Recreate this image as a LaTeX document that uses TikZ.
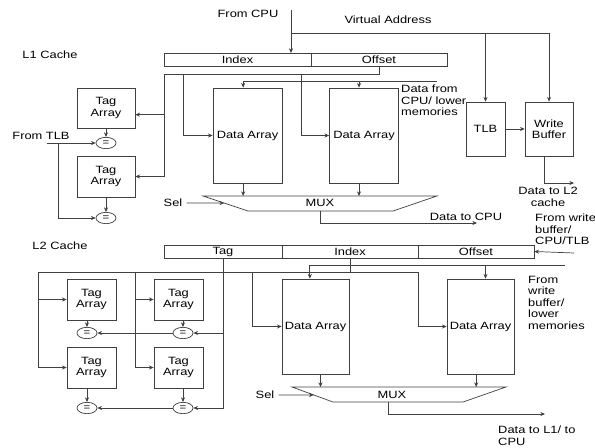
\documentclass[tikz,border=0pt]{standalone}
\usepackage{fontspec}
\setmainfont{Liberation Sans}[FakeStretch=1.22]
\usetikzlibrary{arrows.meta,shapes.geometric,calc}
\tikzset{
  wire/.style={draw=black!75,line width=0.6pt},
  arr/.style={wire,-{Stealth[length=4pt,width=3.5pt]}},
  blk/.style={wire,inner sep=0pt,align=center},
  fld/.style={wire,inner sep=0pt,minimum height=0.4cm},
  cmp/.style={wire,ellipse,inner sep=0pt,minimum width=0.6cm,minimum height=0.34cm,font=\fontsize{8}{8}\selectfont},
  txt/.style={inner sep=0pt,align=left}
}

\begin{document}
\begin{tikzpicture}[x=0.03cm,y=-0.03cm,font=\fontsize{9}{9.8}\selectfont]
  \useasboundingbox (0,0) rectangle (595,447);

  %% L1 cache
  \node[txt] (l1) at (50,55) {L1 Cache};
  \node[txt] (cpu) at (248,14) {From CPU};
  \node[txt] (va) at (388,20) {Virtual Address};
  % address fields
  \node[fld,minimum width=4.41cm] (idx1) at (237.5,60) {Index};
  \node[fld,minimum width=4.08cm] (off1) at (379,60) {Offset};
  \coordinate (cpuin) at (291,10);
  \coordinate (vbus) at (291,33);
  \draw[arr] (cpuin) -- (cpuin |- idx1.north);
  % TLB and write buffer
  \node[blk,minimum width=1.17cm,minimum height=1.62cm] (tlb) at (485.5,129) {TLB};
  \node[blk,minimum width=1.44cm,minimum height=1.62cm] (wb) at (549,129) {Write\\Buffer};
  \draw[arr] (vbus) -| (tlb.north);
  \draw[arr] (vbus) -| (wb.north);
  \draw[arr] (tlb) -- (wb);
  \coordinate (l2out) at (574,183);
  \draw[arr] ([xshift=-0.15cm]wb.south) |- (l2out);
  \node[txt,align=center] (tol2) at (548,197) {Data to L2\\cache};
  % tag arrays
  \node[blk,minimum width=1.74cm,minimum height=1.2cm] (ta1) at (106,108) {Tag\\Array};
  \node[blk,minimum width=1.74cm,minimum height=1.23cm] (ta2) at (106,176.5) {Tag\\Array};
  \node[cmp] (eq1) at (106,143) {=};
  \node[cmp] (eq2) at (106,218) {=};
  \draw[arr] (ta1) -- (eq1);
  \draw[arr] (ta2) -- (eq2);
  \node[txt] (ftlb) at (41,136) {From TLB};
  \coordinate (tlbin) at (47,143);
  \coordinate (tlbj) at (58,143);
  \draw[arr] (tlbin) -- (eq1.west);
  \draw[arr] (tlbj) |- (eq2.west);
  % data arrays
  \node[blk,minimum width=2.07cm,minimum height=2.85cm] (da1) at (247.5,135.5) {Data Array};
  \node[blk,minimum width=2.07cm,minimum height=2.85cm] (da2) at (364,135.5) {Data Array};
  \coordinate (ib) at (164,74);
  \draw[wire] (off1.south) |- (ib);
  \draw[arr] (ib) |- ([yshift=-0.2cm]ta1.east);
  \draw[arr] (ib) |- (ta2.east);
  \draw[arr] (183,74) |- (da1.west);
  \draw[arr] (301,74) |- (da2.west);
  \coordinate (din1) at (437,81);
  \draw[arr] (din1) -| ([xshift=-0.13cm]da1.north);
  \draw[arr] (din1 -| da2.north) ++(-5,0) -- ([xshift=-0.15cm]da2.north);
  \node[txt,anchor=north west] (dfrom) at (401,85) {Data from\\CPU/ lower\\memories};
  % mux
  \coordinate (m1a) at (203,196);
  \coordinate (m1b) at (437,196);
  \coordinate (m1c) at (393,211);
  \coordinate (m1d) at (248,211);
  \draw[wire] (m1a) -- (m1b) -- (m1c) -- (m1d) -- cycle;
  \node[txt] (mux1) at (320,203) {MUX};
  \draw[arr] ([xshift=-0.13cm]da1.south) -- ([xshift=-0.13cm]da1.south |- m1a);
  \draw[arr] ([xshift=-0.15cm]da2.south) -- ([xshift=-0.15cm]da2.south |- m1a);
  \node[txt] (sel1) at (173,203) {Sel};
  \draw[arr] (sel1.east) ++(4,0) -- ($(m1a)!0.47!(m1d)$);
  \coordinate (tocpu) at (477,223);
  \draw[arr] (mux1 |- m1d) |- (tocpu);
  \node[txt] (tocpul) at (466,217) {Data to CPU};

  %% L2 cache
  \node[txt] (l2) at (60,246) {L2 Cache};
  \node[fld,minimum width=3.54cm,minimum height=0.39cm] (tag2) at (223,251.5) {Tag};
  \node[fld,minimum width=4.08cm,minimum height=0.39cm] (idx2) at (350,251.5) {Index};
  \node[fld,minimum width=3.48cm,minimum height=0.39cm] (off2) at (476,251.5) {Offset};
  \coordinate (wbin) at (574,253);
  \draw[arr] (wbin) -- (off2.east);
  \node[txt,anchor=north west] (fwb) at (535,214) {From write\\buffer/\\CPU/TLB};
  % tag arrays
  \node[blk,minimum width=1.47cm,minimum height=1.23cm] (tga) at (91.5,299.5) {Tag\\Array};
  \node[blk,minimum width=1.47cm,minimum height=1.23cm] (tgb) at (178.5,299.5) {Tag\\Array};
  \node[blk,minimum width=1.47cm,minimum height=1.23cm] (tgc) at (91.5,367.5) {Tag\\Array};
  \node[blk,minimum width=1.47cm,minimum height=1.23cm] (tgd) at (178.5,367.5) {Tag\\Array};
  \node[cmp] (eqa1) at (87,333) {=};
  \node[cmp] (eqb1) at (183,333) {=};
  \node[cmp] (eqa2) at (87,408) {=};
  \node[cmp] (eqb2) at (183,408) {=};
  \draw[arr] (tga.south -| eqa1) -- (eqa1);
  \draw[arr] (tgb.south -| eqb1) -- (eqb1);
  \draw[arr] (tgc.south -| eqa2) -- (eqa2);
  \draw[arr] (tgd.south -| eqb2) -- (eqb2);
  \draw[arr] (tag2.south) |- (eqb2.east);
  \draw[arr] (tag2.south |- eqb1) -- (eqb1.east);
  \draw[arr] (eqb1.west) -- (eqa1.east);
  \draw[arr] (eqb2.west) -- (eqa2.east);
  % data arrays
  \node[blk,minimum width=2.01cm,minimum height=2.85cm] (db1) at (315.5,326.5) {Data Array};
  \node[blk,minimum width=2.01cm,minimum height=2.85cm] (db2) at (480.5,326.5) {Data Array};
  \coordinate (bus2) at (38,272);
  \coordinate (bus2b) at (135,272);
  \coordinate (k1) at (252,272);
  \coordinate (k2) at (418,272);
  \draw[wire] (idx2.south) |- (bus2);
  \draw[wire] (idx2.south |- bus2) -- (k2);
  \draw[arr] (bus2) |- (tga.west);
  \draw[arr] (bus2) |- (tgc.west);
  \draw[arr] (bus2b) |- (tgb.west);
  \draw[arr] (bus2b) |- (tgd.west);
  \draw[arr] (k1) |- (db1.west);
  \draw[arr] (k2) |- (db2.west);
  \coordinate (din2) at (565,265);
  \draw[arr] (din2) -| ([xshift=-0.17cm]db1.north);
  \draw[arr] (din2 -| db2.north) ++(5,0) -- ([xshift=0.15cm]db2.north);
  \node[txt,anchor=north west] (fwb2) at (528,276) {From\\write\\buffer/\\lower\\memories};
  % mux
  \coordinate (m2a) at (292,387);
  \coordinate (m2b) at (506,387);
  \coordinate (m2c) at (463,402);
  \coordinate (m2d) at (333,402);
  \draw[wire] (m2a) -- (m2b) -- (m2c) -- (m2d) -- cycle;
  \node[txt] (mux2) at (392,395) {MUX};
  \draw[arr] ([xshift=0.15cm]db1.south) -- ([xshift=0.15cm]db1.south |- m2a);
  \draw[arr] ([xshift=-0.13cm]db2.south) -- ([xshift=-0.13cm]db2.south |- m2a);
  \node[txt] (sel2) at (265,395) {Sel};
  \draw[arr] (sel2.east) ++(4,0) -- ($(m2a)!0.53!(m2d)$);
  \coordinate (tol1) at (545,414);
  \draw[arr] ([xshift=-0.12cm]mux2.south |- m2d) |- (tol1);
  \node[txt,anchor=north west] (tol1l) at (498,426) {Data to L1/ to\\CPU};
\end{tikzpicture}
\end{document}
